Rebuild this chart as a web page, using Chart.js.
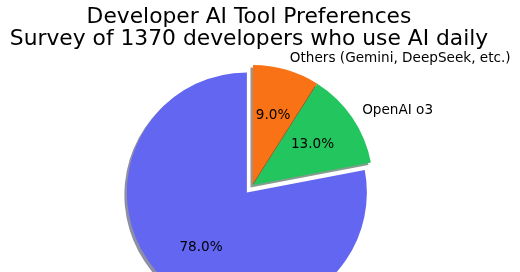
<!DOCTYPE html>
<html>
<head>
<meta charset="utf-8">
<script src="https://cdn.jsdelivr.net/npm/chart.js@4.4.1/dist/chart.umd.min.js"></script>
<style>
  html, body { margin: 0; padding: 0; background: #fff; overflow: hidden; }
  #wrap { width: 520px; height: 272px; }
</style>
</head>
<body>
<div id="wrap"><canvas id="pieChart" width="520" height="272"></canvas></div>
<script>
const titleLines = ['Developer AI Tool Preferences', 'Survey of 1370 developers who use AI daily'];
const labels = ['Others (Gemini, DeepSeek, etc.)', 'OpenAI o3', 'Claude'];
const shares = [9, 13, 78];

const colors = ['#f97316', '#22c55e', '#6366f1'];
const explode = [0, 0, 0.08];
const FONT = '"DejaVu Sans", sans-serif';

function shadowOf(hex) {
  const n = parseInt(hex.slice(1), 16);
  const r = (n >> 16) & 255, g = (n >> 8) & 255, b = n & 255;
  return 'rgba(' + Math.round(r * 0.3) + ',' + Math.round(g * 0.3) + ',' + Math.round(b * 0.3) + ',0.5)';
}

function explodeShift(arc, i) {
  const mid = (arc.startAngle + arc.endAngle) / 2;
  const d = explode[i] * arc.outerRadius;
  return { dx: Math.cos(mid) * d, dy: Math.sin(mid) * d, mid: mid };
}

// pulls wedges out and puts a flat grey shadow under each one
const wedgePlugin = {
  id: 'wedges',
  afterDatasetUpdate(chart, args) {
    args.meta.data.forEach((arc, i) => {
      if (arc._wrapped) return;
      const orig = arc.draw;
      arc.draw = function(ctx, area) {
        const s = explodeShift(this, i);
        ctx.save();
        ctx.translate(s.dx, s.dy);
        ctx.shadowColor = shadowOf(colors[i]);
        ctx.shadowOffsetX = -2.5;
        ctx.shadowOffsetY = 2.5;
        ctx.shadowBlur = 0;
        orig.call(this, ctx, area);
        ctx.restore();
      };
      arc._wrapped = true;
    });
  },
  afterDatasetsDraw(chart) {
    const ctx = chart.ctx;
    const arcs = chart.getDatasetMeta(0).data;
    const vals = chart.data.datasets[0].data;
    const total = vals.reduce((a, b) => a + b, 0);
    ctx.save();
    ctx.font = '13.6px ' + FONT;
    ctx.fillStyle = '#000';
    ctx.textBaseline = 'middle';
    arcs.forEach((arc, i) => {
      const s = explodeShift(arc, i);
      const cx = arc.x + s.dx, cy = arc.y + s.dy;
      const r = arc.outerRadius;
      const cos = Math.cos(s.mid), sin = Math.sin(s.mid);
      ctx.textAlign = cos > 0 ? 'left' : 'right';
      ctx.fillText(chart.data.labels[i], cx + cos * r * 1.1, cy + sin * r * 1.1);
      ctx.textAlign = 'center';
      ctx.fillText((vals[i] / total * 100).toFixed(1) + '%', cx + cos * r * 0.6, cy + sin * r * 0.6);
    });
    ctx.restore();
  },
  afterDraw(chart) {
    const ctx = chart.ctx;
    ctx.save();
    ctx.font = '21.8px ' + FONT;
    ctx.fillStyle = '#000';
    ctx.textAlign = 'center';
    ctx.textBaseline = 'alphabetic';
    ctx.fillText(titleLines[0], 249, 23);
    ctx.fillText(titleLines[1], 249, 44.5);
    ctx.restore();
  }
};

const pieChart = new Chart(document.getElementById('pieChart').getContext('2d'), {
  type: 'pie',
  data: {
    labels: labels,
    datasets: [{
      data: shares,
      backgroundColor: colors,
      borderWidth: 0,
      clip: false
    }]
  },
  options: {
    responsive: false,
    animation: false,
    events: [],
    radius: 120,
    layout: { padding: { left: 0, right: 14, top: 100, bottom: 2 } },
    plugins: {
      legend: { display: false },
      tooltip: { enabled: false },
      title: { display: false }
    }
  },
  plugins: [wedgePlugin]
});
</script>
</body>
</html>
